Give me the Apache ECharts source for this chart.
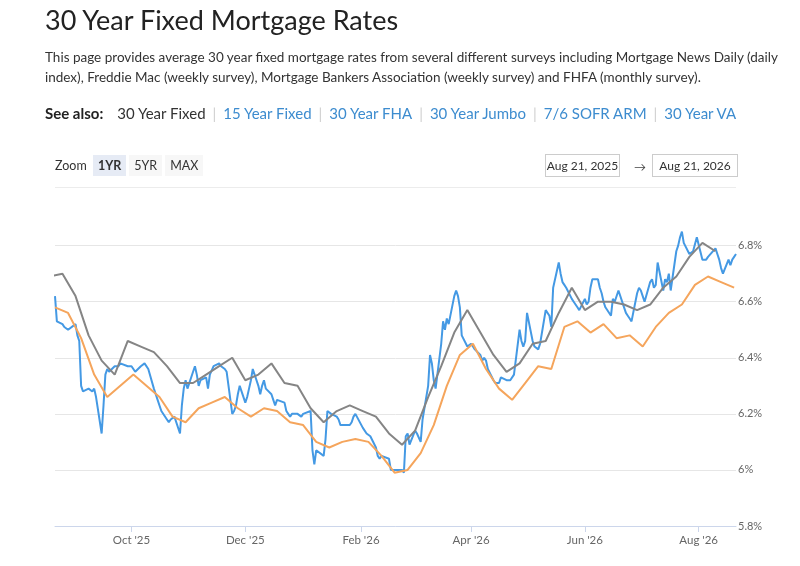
<!DOCTYPE html>
<html>
<head>
<meta charset="utf-8">
<title>30 Year Fixed Mortgage Rates</title>
<script src="https://cdn.jsdelivr.net/npm/echarts@6.0.0/dist/echarts.min.js"></script>
<style>
  body {
    margin: 0;
    width: 800px;
    height: 566px;
    overflow: hidden;
    background: #fff;
    position: relative;
    font-family: Lato, "Open Sans", sans-serif;
    color: #333;
  }
  #chart { position: absolute; left: 0; top: 0; width: 800px; height: 566px; }
  .blk { position: absolute; z-index: 2; white-space: nowrap; }
  #title { left: 45px; top: 3px; font-size: 27px; line-height: 34px; color: #222; }
  #intro { left: 45px; top: 47px; font-size: 13.5px; line-height: 20px; color: #333; }
  #seealso { left: 45px; top: 103px; font-size: 15px; line-height: 20px; color: #333; }
  #seealso b { color: #222; margin-right: 14px; }
  #seealso a { color: #3d8ccf; text-decoration: none; }
  #seealso .sep { color: #d0d0d0; margin: 0 7px; }
  #zoom { left: 55px; top: 155px; font-size: 12.5px; line-height: 21px; color: #333; }
  #zoom .btn { display: inline-block; padding: 0 5px; margin-left: 3px; background: #f7f7f7; }
  #zoom .btn.on { background: #e6ebf5; font-weight: bold; }
  .box {
    position: absolute; z-index: 2; top: 154px; height: 21px; line-height: 21px;
    border: 1px solid #ccc; font-size: 12px; color: #333; text-align: center;
  }
  #from { left: 545px; width: 73px; }
  #to { left: 652px; width: 84px; }
  #arrow { left: 634px; top: 156px; font-size: 12px; line-height: 21px; color: #444; }
  #topline { position: absolute; left: 55px; top: 187px; width: 681px; height: 1px; background: #ececec; }
</style>
</head>
<body>
<div id="title" class="blk">30 Year Fixed Mortgage Rates</div>
<div id="intro" class="blk">This page provides average 30 year fixed mortgage rates from several different surveys including Mortgage News Daily (daily<br>index), Freddie Mac (weekly survey), Mortgage Bankers Association (weekly survey) and FHFA (monthly survey).</div>
<div id="seealso" class="blk"><b>See also:</b><span>30 Year Fixed</span><span class="sep">|</span><a href="#">15 Year Fixed</a><span class="sep">|</span><a href="#">30 Year FHA</a><span class="sep">|</span><a href="#">30 Year Jumbo</a><span class="sep">|</span><a href="#">7/6 SOFR ARM</a><span class="sep">|</span><a href="#">30 Year VA</a></div>
<div id="zoom" class="blk">Zoom <span class="btn on">1YR</span><span class="btn">5YR</span><span class="btn">MAX</span></div>
<div id="from" class="box">Aug 21, 2025</div>
<div id="arrow" class="blk">&rarr;</div>
<div id="to" class="box">Aug 21, 2026</div>
<div id="topline"></div>
<div id="chart"></div>
<script>
const DAY = 86400000;
const RANGE_START = Date.UTC(2025, 7, 21);
const RANGE_END = Date.UTC(2026, 7, 21);

// Mortgage News Daily index, one value per weekday starting Thu Aug 21, 2025
const mndRates = [
  6.62, 6.53,
  6.52, 6.51, 6.51, 6.50, 6.50,
  6.52, 6.48, 6.46, 6.30, 6.28,
  6.29, 6.29, 6.28, 6.29, 6.26,
  6.13, 6.23, 6.34, 6.36, 6.35,
  6.37, 6.37, 6.37, 6.38, 6.38,
  6.37, 6.37, 6.37, 6.36, 6.35,
  6.37, 6.37, 6.38, 6.38, 6.36,
  6.29, 6.27, 6.25, 6.23, 6.21,
  6.18, 6.17, 6.18, 6.18, 6.19,
  6.13, 6.23, 6.29, 6.32, 6.29,
  6.35, 6.37, 6.34, 6.30, 6.32,
  6.33, 6.29, 6.34, 6.34, 6.37,
  6.38, 6.37, 6.37, 6.36, 6.35,
  6.20, 6.21, 6.23, 6.27, 6.30,
  6.24, 6.26, 6.29, 6.32, 6.36,
  6.30, 6.27, 6.30, 6.32, 6.29,
  6.27, 6.25, 6.23, 6.25, 6.25,
  6.24, 6.21, 6.20, 6.19, 6.20,
  6.20, 6.20, 6.19, 6.20, 6.20,
  6.21, 6.07, 6.02, 6.07, 6.07,
  6.05, 6.11, 6.21, 6.21, 6.20,
  6.19, 6.18, 6.16, 6.16, 6.16,
  6.16, 6.17, 6.19, 6.20, 6.20,
  6.15, 6.15, 6.13, 6.13, 6.12,
  6.08, 6.05, 6.04, 6.05, 6.05,
  6.04, 6.00, 6.00, 6.00, 6.00,
  6.00, 5.99, 6.12, 6.13, 6.09,
  6.14, 6.13, 6.13, 6.10, 6.18,
  6.30, 6.41, 6.38, 6.32, 6.29,
  6.45, 6.53, 6.50, 6.54, 6.52,
  6.62, 6.64, 6.62, 6.58, 6.48,
  6.44, 6.44, 6.45, 6.44, 6.43,
  6.41, 6.39, 6.40, 6.39, 6.36,
  6.32, 6.31, 6.31, 6.31, 6.33,
  6.32, 6.32, 6.32, 6.32, 6.34,
  6.50, 6.46, 6.44, 6.46, 6.56,
  6.46, 6.44, 6.44, 6.43, 6.45,
  6.57, 6.57, 6.55, 6.51, 6.65,
  6.74, 6.70, 6.67, 6.66, 6.65,
  6.61, 6.60, 6.59, 6.58, 6.57,
  6.61, 6.59, 6.60, 6.65, 6.68,
  6.68, 6.65, 6.63, 6.60, 6.58,
  6.55, 6.61, 6.60, 6.60, 6.64,
  6.58, 6.56, 6.55, 6.54, 6.53,
  6.63, 6.65, 6.64, 6.62, 6.60,
  6.67, 6.68, 6.65, 6.66, 6.74,
  6.64, 6.68, 6.67, 6.70, 6.64,
  6.78, 6.80, 6.83, 6.85, 6.81,
  6.77, 6.77, 6.78, 6.78, 6.83,
  6.75, 6.75, 6.75, 6.76, 6.76,
  6.79, 6.77, 6.75, 6.72, 6.70,
  6.75, 6.73, 6.75, 6.76, 6.77
];

// Freddie Mac weekly survey, Thursdays starting Aug 21, 2025
const freddieRates = [
  6.58, 6.56, 6.47, 6.34, 6.26, 6.30, 6.34, 6.30, 6.26, 6.19,
  6.17, 6.22, 6.24, 6.26, 6.22, 6.19, 6.22, 6.21, 6.17, 6.16,
  6.10, 6.08, 6.10, 6.11, 6.10, 6.05, 5.99, 6.00, 6.06, 6.16,
  6.30, 6.41, 6.45, 6.36, 6.29, 6.25, 6.31, 6.37, 6.36, 6.51,
  6.53, 6.49, 6.52, 6.47, 6.48, 6.44, 6.51, 6.56, 6.59, 6.66,
  6.69, 6.67, 6.65
];

// MBA weekly survey, Mondays starting Aug 18, 2025
const mbaRates = [
  6.69, 6.70, 6.62, 6.48, 6.39, 6.34, 6.46, 6.44, 6.42, 6.37,
  6.31, 6.31, 6.34, 6.37, 6.40, 6.32, 6.34, 6.38, 6.31, 6.30,
  6.22, 6.17, 6.21, 6.23, 6.21, 6.19, 6.13, 6.09, 6.14, 6.26,
  6.37, 6.49, 6.57, 6.49, 6.41, 6.35, 6.38, 6.45, 6.46, 6.56,
  6.65, 6.57, 6.60, 6.60, 6.59, 6.57, 6.59, 6.65, 6.69, 6.76,
  6.81, 6.78
];

const monthTicks = ["2025-10-01", "2025-12-01", "2026-02-01", "2026-04-01", "2026-06-01", "2026-08-01"];
const rateTicks = [5.8, 6.0, 6.2, 6.4, 6.6, 6.8];
const monthNames = ["Jan", "Feb", "Mar", "Apr", "May", "Jun", "Jul", "Aug", "Sep", "Oct", "Nov", "Dec"];

function weekdays(from, count) {
  const out = [];
  for (let t = from; out.length < count; t += DAY) {
    const wd = new Date(t).getUTCDay();
    if (wd !== 0 && wd !== 6) out.push(t);
  }
  return out;
}

function weekly(from, values) {
  return values.map((v, i) => [from + i * 7 * DAY, v]);
}

const mndDays = weekdays(RANGE_START, mndRates.length);
const mndData = mndRates.map((v, i) => [mndDays[i], v]);
const freddieData = weekly(RANGE_START, freddieRates);
const mbaData = weekly(Date.UTC(2025, 7, 18), mbaRates);
const tickTimes = monthTicks.map((s) => Date.parse(s + "T00:00:00Z"));

function lineSeries(name, data, color) {
  return {
    name: name,
    type: "line",
    data: data,
    showSymbol: false,
    symbol: "none",
    lineStyle: { color: color, width: 2 },
    itemStyle: { color: color },
    emphasis: { disabled: true },
  };
}

const chart = echarts.init(document.getElementById("chart"), null, { renderer: "canvas" });
chart.setOption({
  animation: false,
  backgroundColor: "transparent",
  textStyle: { fontFamily: "Lato, sans-serif" },
  grid: { left: 55, right: 64, top: 217.6, bottom: 40 },
  xAxis: {
    // dates as UTC timestamps on a plain value scale, ticks at month starts
    type: "value",
    min: RANGE_START,
    max: RANGE_END,
    axisLine: { lineStyle: { color: "#ccd6eb" } },
    axisTick: { show: true, length: 6, customValues: tickTimes, lineStyle: { color: "#ccd6eb" } },
    axisLabel: {
      customValues: tickTimes,
      color: "#666",
      fontSize: 11.5,
      margin: 8,
      formatter: (v) => {
        const d = new Date(v);
        return monthNames[d.getUTCMonth()] + " '" + String(d.getUTCFullYear()).slice(2);
      },
    },
    splitLine: { show: false },
  },
  yAxis: {
    type: "value",
    position: "right",
    min: rateTicks[0],
    max: 6.9,
    interval: 0.2,
    axisLine: { show: false },
    axisTick: { show: false },
    axisLabel: {
      color: "#666",
      fontSize: 11,
      margin: 2,
      showMaxLabel: false,
      padding: [0, 0, 5, 0],
      formatter: (v) => Math.round(v * 10) / 10 + "%",
    },
    splitLine: {
      showMaxLine: false,
      lineStyle: {
        color: rateTicks.map(() => "#e6e6e6").concat(["rgba(0,0,0,0)"]),
        width: 1,
      },
    },
  },
  series: [
    lineSeries("Mortgage News Daily", mndData, "#4499e4"),
    lineSeries("Freddie Mac", freddieData, "#f5a55c"),
    lineSeries("MBA", mbaData, "#858585"),
  ],
});
</script>
</body>
</html>
